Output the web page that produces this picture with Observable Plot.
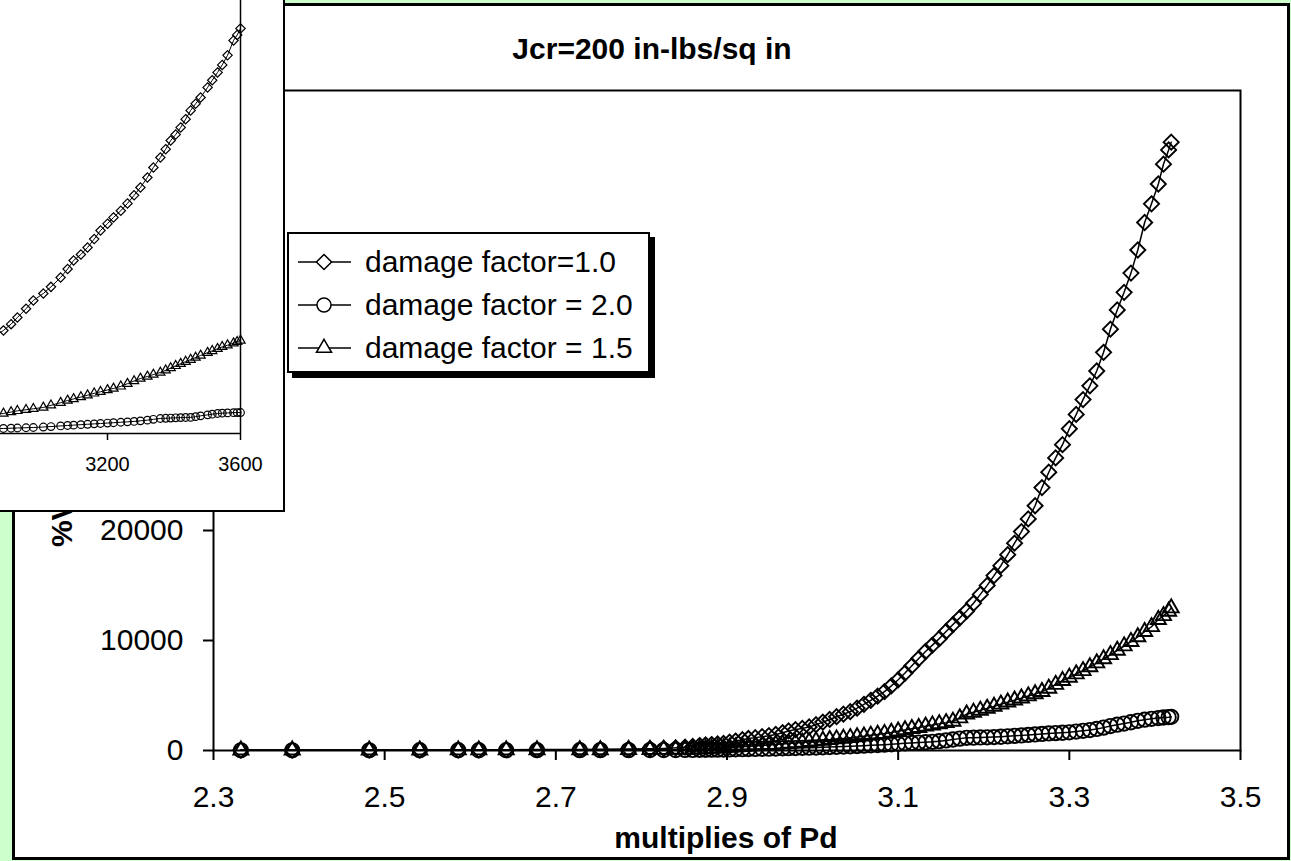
<!DOCTYPE html>
<html>
<head>
<meta charset="utf-8">
<script src="https://cdn.jsdelivr.net/npm/d3@7"></script>
<script src="https://cdn.jsdelivr.net/npm/@observablehq/plot@0.6"></script>
<style>
html,body{margin:0;padding:0;background:#ccffcc;width:1291px;height:861px;overflow:hidden;font-family:"Liberation Sans",Arial,sans-serif;}
#frame{position:absolute;left:12px;top:3px;width:1278px;height:857px;box-sizing:border-box;border:3px solid #000;background:#fff;}
#main{position:absolute;left:0;top:0;}
.txt{position:absolute;white-space:nowrap;line-height:30px;font-size:30px;color:#000;}
#title{left:652px;top:34px;font-weight:bold;transform:translateX(-50%);}
#xtitle{left:726px;top:823px;font-weight:bold;transform:translateX(-50%);}
#ytitle{left:62px;top:424px;font-weight:bold;transform:translate(-50%,-50%) rotate(-90deg);}
#legend{position:absolute;left:287px;top:232px;width:363px;height:141px;box-sizing:border-box;border:2px solid #000;background:#fff;box-shadow:5px 5px 0 #000;}
.lrow{position:absolute;left:0;height:30px;}
.lrow svg{position:absolute;left:0;top:0;}
.lrow span{position:absolute;left:76px;top:0;font-size:30px;line-height:30px;white-space:nowrap;}
#inset{position:absolute;left:0;top:0;width:285px;height:512px;box-sizing:border-box;border-right:2px solid #000;border-bottom:2px solid #000;background:#fff;overflow:hidden;}
#insetPlot{position:absolute;left:-26px;top:0;}
</style>
</head>
<body>
<div id="frame"></div>
<div id="main"></div>
<div id="title" class="txt">Jcr=200 in-lbs/sq in</div>
<div id="xtitle" class="txt">multiplies of Pd</div>
<div id="ytitle" class="txt">%Volume change</div>
<div id="legend"></div>
<div id="inset"><div id="insetPlot"></div></div>
<script>
// ---------- main chart data ----------
const seriesNames = ["damage factor=1.0", "damage factor = 2.0", "damage factor = 1.5"];
const xTicks = [2.3, 2.5, 2.7, 2.9, 3.1, 3.3, 3.5];
const yTicks = [0, 10000, 20000, 30000, 40000, 50000, 60000];

const pd = [2.332, 2.392, 2.482, 2.541, 2.586, 2.610, 2.642, 2.678, 2.728, 2.752, 2.785, 2.810, 2.826, 2.840, 2.851, 2.860,
  2.868, 2.875, 2.882, 2.889, 2.896, 2.903, 2.910, 2.918, 2.925, 2.933, 2.941, 2.949, 2.957, 2.965, 2.972, 2.980,
  2.988, 2.996, 3.004, 3.012, 3.020, 3.028, 3.036, 3.044, 3.052, 3.060, 3.068, 3.076, 3.084, 3.092, 3.100, 3.108,
  3.116, 3.124, 3.132, 3.140, 3.148, 3.156, 3.164, 3.172, 3.180, 3.188, 3.196, 3.204, 3.212, 3.220, 3.228, 3.236,
  3.244, 3.252, 3.260, 3.268, 3.276, 3.284, 3.292, 3.300, 3.308, 3.316, 3.324, 3.332, 3.340, 3.348, 3.356, 3.364,
  3.372, 3.380, 3.388, 3.396, 3.404, 3.410, 3.416, 3.419];

const df10 = [40, 40, 50, 50, 60, 60, 70, 80, 100, 110, 130, 160, 190, 240, 300, 370,
  450, 500, 540, 590, 640, 760, 860, 980, 1090, 1170, 1260, 1350, 1460, 1620, 1780, 1900,
  2010, 2140, 2350, 2580, 2820, 3070, 3300, 3530, 3850, 4200, 4560, 4940, 5350, 5880, 6430, 7040,
  7700, 8360, 9000, 9580, 10170, 10820, 11450, 12060, 12680, 13380, 14190, 15010, 15900, 16800, 17800, 18850,
  19900, 21050, 22250, 23900, 25300, 26600, 27800, 29250, 30550, 31900, 33150, 34500, 36200, 38300, 40050, 41650,
  43400, 45500, 48000, 49700, 51500, 53300, 54600, 55300];

const df20 = [20, 20, 20, 25, 25, 25, 30, 30, 30, 35, 35, 40, 40, 45, 50, 55,
  60, 70, 75, 80, 90, 100, 110, 120, 130, 140, 150, 165, 180, 195, 210, 225,
  240, 255, 275, 295, 315, 335, 360, 385, 410, 440, 470, 500, 530, 570, 610, 650,
  690, 720, 750, 790, 850, 920, 1000, 1080, 1150, 1170, 1185, 1200, 1220, 1250, 1290, 1330,
  1375, 1420, 1465, 1510, 1550, 1580, 1615, 1650, 1720, 1790, 1860, 1960, 2080, 2220, 2350, 2450,
  2570, 2700, 2800, 2880, 2950, 3000, 3030, 3060];

const df15 = [30, 30, 35, 35, 40, 40, 45, 50, 55, 60, 70, 80, 90, 100, 110, 115,
  120, 150, 180, 210, 240, 270, 300, 340, 380, 420, 460, 500, 540, 590, 640, 690,
  740, 800, 860, 920, 980, 1040, 1100, 1160, 1230, 1300, 1380, 1460, 1540, 1640, 1760, 1870,
  1980, 2080, 2200, 2310, 2420, 2520, 2650, 2950, 3300, 3470, 3650, 3830, 4010, 4200, 4390, 4580,
  4760, 4950, 5140, 5350, 5650, 6000, 6350, 6650, 6950, 7250, 7600, 7950, 8330, 8700, 9100, 9500,
  9900, 10330, 10800, 11250, 11900, 12250, 12650, 12950];

// ---------- inset chart data ----------
const insetTicks = [3200, 3600];
const insetLoad = [2840, 2860, 2887, 2910, 2929, 2955, 2977, 3007, 3030, 3059, 3080, 3098, 3120, 3140, 3160, 3179,
  3200, 3218, 3240, 3260, 3280, 3299, 3320, 3338, 3359, 3375, 3390, 3405, 3420, 3435, 3450, 3465,
  3480, 3501, 3515, 3531, 3545, 3561, 3579, 3590, 3600];
const insetDf10 = [11500, 12000, 12720, 13500, 14320, 15400, 16420, 17280, 18100, 19260, 20300, 21360, 22100, 22960, 24000, 25060,
  25900, 26670, 27500, 28400, 29400, 30370, 31600, 32840, 34070, 35100, 36170, 36900, 37780, 38800, 39880, 40700,
  41480, 42720, 43600, 44570, 45500, 46680, 48520, 49200, 50000];
const insetDf20 = [560, 590, 620, 650, 680, 710, 740, 800, 860, 930, 990, 1030, 1090, 1140, 1190, 1235,
  1290, 1330, 1390, 1440, 1490, 1560, 1650, 1750, 1850, 1880, 1910, 1940, 1960, 1975, 1990, 2080,
  2180, 2300, 2380, 2470, 2510, 2540, 2570, 2580, 2590];
const insetDf15 = [2200, 2330, 2470, 2650, 2800, 2930, 3050, 3210, 3480, 3800, 4080, 4270, 4500, 4730, 4960, 5150,
  5380, 5560, 5820, 6150, 6480, 6790, 7040, 7280, 7530, 7800, 8080, 8350, 8620, 8870, 9120, 9380,
  9630, 9980, 10200, 10460, 10700, 10900, 11150, 11320, 11490];

const FONT = '"Liberation Sans", Arial, sans-serif';
const symbols = ["diamond2", "circle", "triangle2"];
const mainR = [6.8, 7.2, 7.2];
const insetR = [4.2, 3.8, 4.4];

function rows(xs, ys) { return xs.map((x, i) => ({x, y: ys[i]})); }

// ---------- main plot ----------
const mainSeries = [df10, df20, df15];
const mainMarks = [Plot.frame({stroke: "#000", strokeWidth: 2})];
mainSeries.forEach((ys, k) => {
  const data = rows(pd, ys);
  mainMarks.push(Plot.line(data, {x: "x", y: "y", stroke: "#000", strokeWidth: 1.5}));
});
mainSeries.forEach((ys, k) => {
  const data = rows(pd, ys);
  mainMarks.push(Plot.dot(data, {x: "x", y: "y", symbol: symbols[k], r: mainR[k], stroke: "#000", strokeWidth: 1.9, fill: "none"}));
});
mainMarks.push(
  Plot.axisX(xTicks, {tickSize: 10, tickPadding: 25, tickFormat: d3.format(".1f"), strokeWidth: 2, fontSize: 30, label: null}),
  Plot.axisY(yTicks, {tickSize: 10, tickPadding: 20, tickFormat: d => String(d), strokeWidth: 2, fontSize: 30, label: null})
);

const mainPlot = Plot.plot({
  width: 1291, height: 861,
  marginLeft: 213, marginRight: 51, marginTop: 90, marginBottom: 111,
  x: {domain: [2.3, 3.5], label: null},
  y: {domain: [0, 60000], label: null},
  style: {background: "transparent", fontFamily: FONT, fontSize: "30px", color: "#000", overflow: "visible"},
  marks: mainMarks
});
document.getElementById("main").appendChild(mainPlot);

// ---------- inset plot ----------
const insetSeries = [insetDf10, insetDf20, insetDf15];
const insetMarks = [
  Plot.ruleX([3600], {stroke: "#000", strokeWidth: 1.5}),
  Plot.ruleY([0], {stroke: "#000", strokeWidth: 1.5})
];
insetSeries.forEach((ys, k) => {
  const data = rows(insetLoad, ys);
  insetMarks.push(Plot.line(data, {x: "x", y: "y", stroke: "#000", strokeWidth: 1}));
  insetMarks.push(Plot.dot(data, {x: "x", y: "y", symbol: symbols[k], r: insetR[k], stroke: "#000", strokeWidth: 1.2, fill: "none"}));
});
insetMarks.push(Plot.axisX(insetTicks, {tickSize: 7, tickPadding: 16, tickFormat: d => String(d), strokeWidth: 1.5, fontSize: 20, label: null}));

const insetPlot = Plot.plot({
  width: 309, height: 510,
  marginLeft: 0, marginRight: 43, marginTop: 0, marginBottom: 77,
  x: {domain: [2800, 3600], label: null},
  y: {domain: [0, 53450], label: null, axis: null},
  style: {background: "transparent", fontFamily: FONT, fontSize: "20px", color: "#000", overflow: "visible"},
  marks: insetMarks
});
document.getElementById("insetPlot").appendChild(insetPlot);

// ---------- legend ----------
const legend = document.getElementById("legend");
const rowCenters = [262, 305, 348];
const legSizes = [6.8, 7.0, 7.2];
const d3sym = {diamond2: d3.symbolDiamond2, circle: d3.symbolCircle, triangle2: d3.symbolTriangle2};
seriesNames.forEach((name, k) => {
  const row = document.createElement("div");
  row.className = "lrow";
  row.style.top = (rowCenters[k] - 232 - 2 - 15) + "px";
  row.style.width = "359px";
  const ns = "http://www.w3.org/2000/svg";
  const svg = document.createElementNS(ns, "svg");
  svg.setAttribute("width", "70"); svg.setAttribute("height", "30");
  const line = document.createElementNS(ns, "line");
  line.setAttribute("x1", 9); line.setAttribute("x2", 62);
  line.setAttribute("y1", 15); line.setAttribute("y2", 15);
  line.setAttribute("stroke", "#000"); line.setAttribute("stroke-width", "1.5");
  svg.appendChild(line);
  const p = document.createElementNS(ns, "path");
  const r = legSizes[k];
  p.setAttribute("d", d3.symbol(d3sym[symbols[k]], Math.PI * r * r)());
  p.setAttribute("transform", "translate(35,15)");
  p.setAttribute("fill", "#fff"); p.setAttribute("stroke", "#000"); p.setAttribute("stroke-width", "1.5");
  svg.appendChild(p);
  row.appendChild(svg);
  const span = document.createElement("span");
  span.textContent = name;
  row.appendChild(span);
  legend.appendChild(row);
});
</script>
</body>
</html>
